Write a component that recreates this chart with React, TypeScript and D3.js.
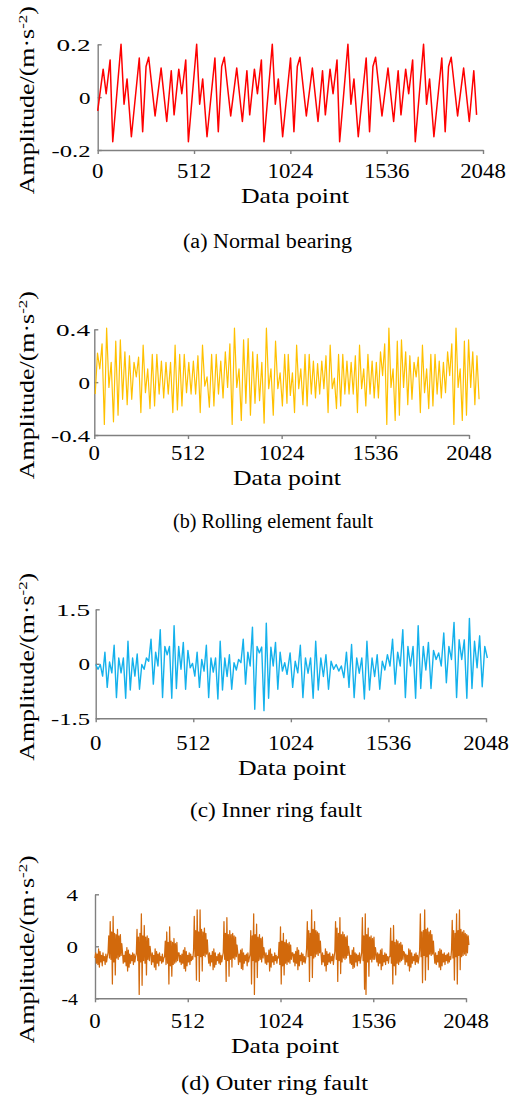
import React, { useEffect, useRef } from 'react';
import * as d3 from 'd3';

type Pt = [number, number];

// --- DATA ---
const X_TICKS = [0, 512, 1024, 1536, 2048];
const CAPTIONS = ['(a) Normal bearing', '(b) Rolling element fault', '(c) Inner ring fault', '(d) Outer ring fault'];
const COLORS = ['#ff0000', '#ffc000', '#14b1ec', '#d2690c'];
const Y_DOMAINS: [number, number][] = [[-0.2, 0.2], [-0.4, 0.4], [-1.5, 1.5], [-4, 4]];
const Y_TICKS = [[-0.2, 0, 0.2], [-0.4, 0, 0.4], [-1.5, 0, 1.5], [-4, 0, 4]];

// (a) vertices [data point, amplitude]
const normalBearing: Pt[] = [
  [0, -0.052], [29, 0.106], [45, 0.013], [66, 0.141], [80, -0.169],
  [124, 0.2], [140, -0.027], [156, 0.069], [179, -0.15], [221, 0.148], [239, -0.131], [257, 0.116], [271, 0.151],
  [305, -0.071], [337, 0.11], [367, -0.092], [391, 0.1], [406, -0.067], [431, 0.106], [447, 0.013], [468, 0.141], [482, -0.169],
  [526, 0.2], [542, -0.027], [558, 0.069], [581, -0.15], [623, 0.148], [641, -0.131], [659, 0.116], [673, 0.151],
  [707, -0.071], [739, 0.11], [769, -0.092], [793, 0.1], [808, -0.067], [833, 0.106], [849, 0.013], [870, 0.141], [884, -0.169],
  [928, 0.2], [944, -0.027], [960, 0.069], [983, -0.15], [1025, 0.148], [1043, -0.131], [1061, 0.116], [1075, 0.151],
  [1109, -0.071], [1141, 0.11], [1171, -0.092], [1195, 0.1], [1210, -0.067], [1235, 0.106], [1251, 0.013], [1272, 0.141], [1286, -0.169],
  [1330, 0.2], [1346, -0.027], [1362, 0.069], [1385, -0.15], [1427, 0.148], [1445, -0.131], [1463, 0.116], [1477, 0.151],
  [1511, -0.071], [1543, 0.11], [1573, -0.092], [1597, 0.1], [1612, -0.067], [1637, 0.106], [1653, 0.013], [1674, 0.141], [1688, -0.169],
  [1732, 0.2], [1748, -0.027], [1764, 0.069], [1787, -0.15], [1829, 0.148], [1847, -0.131], [1865, 0.116], [1879, 0.151],
  [1913, -0.071], [1945, 0.11], [1975, -0.092], [1999, 0.1], [2014, -0.067],
];

// (b) two halves, evenly spread over their spans
const rollingSpan = [5, 1053, 1060, 2103];
const rollingFirst = [
  -0.09, 0.22, 0.10, 0.29, -0.32, 0.41, -0.04, 0.15, -0.30, 0.31,
  -0.25, 0.32, -0.13, 0.23, -0.17, 0.20, -0.13, 0.15, 0.04, 0.19,
  -0.23, 0.28, -0.08, 0.10, -0.20, 0.21, -0.18, 0.21, -0.09, 0.16,
  -0.12, 0.15, -0.09, 0.15, -0.23, 0.28, -0.21, 0.21, -0.18, 0.21,
  -0.08, 0.15, -0.09, 0.16, -0.09, 0.20, -0.23, 0.28, -0.03, 0.04,
  -0.19, 0.21, -0.18, 0.21, -0.09, 0.16, -0.12, 0.23, -0.04, 0.29,
  -0.32, 0.41, -0.04, 0.10, -0.29, 0.32, -0.16, 0.33, -0.25, 0.23,
  -0.16, 0.21, -0.14, 0.15, -0.31, 0.41, -0.05, 0.10, -0.25, 0.31,
  -0.05, 0.07, -0.18, 0.21, -0.16,
];
const rollingSecond = [
  0.21, -0.10, 0.07, -0.23, 0.28, -0.05, 0.10, -0.17, 0.21, -0.18,
  0.21, -0.09, 0.16, -0.12, 0.14, -0.09, 0.16, -0.05, 0.20, -0.23,
  0.28, -0.05, 0.03, -0.20, 0.21, -0.18, 0.21, -0.09, 0.16, -0.09,
  0.15, -0.09, 0.20, -0.23, 0.28, -0.05, 0.10, -0.18, 0.21, -0.09,
  0.16, -0.12, 0.15, -0.12, 0.23, 0.05, 0.29, -0.32, 0.41, -0.04,
  0.10, -0.29, 0.31, -0.25, 0.32, -0.04, 0.23, -0.17, 0.20, -0.13,
  0.15, 0.04, 0.19, -0.23, 0.28, -0.08, 0.10, -0.20, 0.21, -0.18,
  0.21, -0.09, 0.16, -0.12, 0.15, -0.08, 0.23, 0.05, 0.29, -0.32,
  0.41, -0.04, 0.10, -0.29, 0.31, -0.25, 0.32, -0.04, 0.23, -0.17,
  0.20, -0.13,
];

// (c) two halves
const innerSpan = [0, 1004, 1020, 2055];
const innerFirst = [
  -0.02, -0.15, -0.02, -0.34, 0.32, -0.65, 0.05, -0.25, 0.51, -0.93,
  0.16, -0.25, 0.16, -0.95, 0.62, -0.72, 0.16, -0.34, 0.27, -0.70,
  -0.02, -0.15, 0.16, 0.07, 0.68, -0.56, 0.32, -0.06, 0.94, -0.93,
  0.48, 0.25, 0.48, -0.95, 1.05, -0.68, 0.48, -0.15, 0.59, -0.70,
  0.37, -0.11, 0.01, -0.34, 0.32, -0.65, 0.12, -0.20, 0.51, -0.93,
  0.16, -0.23, 0.16, -0.97, 0.62, -0.72, 0.16, -0.35, 0.25, -0.70,
  0.03, -0.17, 0.12, 0.03, 0.68, -0.56, 0.32, -0.06, 1.01, -1.25,
  0.48, 0.30, 0.46, -1.29, 1.12, -0.95, 0.46, -0.06, 0.59, -0.70,
  0.32, -0.20, 0.03, -0.29,
];
const innerSecond = [
  0.30, -0.65, 0.07, -0.25, 0.51, -0.93, 0.16, -0.26, 0.16, -0.95,
  0.62, -0.72, 0.16, -0.35, 0.25, -0.70, 0.07, -0.15, -0.02, -0.20,
  -0.06, -0.38, 0.32, -0.65, 0.53, -0.93, 0.16, -0.26, 0.16, -0.97,
  0.62, -0.72, 0.16, -0.35, 0.25, -0.70, 0.07, -0.17, 0.25, -0.06,
  0.68, -0.56, 0.32, -0.06, 0.94, -0.93, 0.48, -0.06, 0.48, -0.95,
  1.05, -0.68, 0.48, -0.17, 0.59, -0.68, 0.37, 0.12, 0.30, -0.06,
  0.85, -0.52, 0.48, 0.12, 1.14, -0.93, 0.66, 0.12, 0.66, -0.95,
  1.25, -0.68, 0.62, -0.11, 0.77, -0.63, 0.48, 0.16,
];

// (d) one sample every 4 data points; quiet stretches and impact bursts alternate
const OUTER_STEP = 4;
const outerRing = [
  -0.9, -0.5, -1.3, -0.6, -1.4, -0.2, -1.6, -0.4, -1.2, -0.7, -1.5, -0.5, -1.1, -0.8, -1.4, -0.6, -1.2, -0.8,
  -0.5, 0.8, -0.9, 1.9, -1.0, 1.1, -2.9, 2.3, -1.2, 1.0, -2.2, 0.9, -0.9, 1.3, -1.0, 0.8, -0.8, 0.9, -0.7, 0.2,
  -0.5, -1.3, -0.7, -1.2, -0.4, -1.5, -0.1, -1.9, -0.3, -1.6, -0.6, -1.3, -0.7, -1.1, -0.5, -1.4, -0.6, -1.2, -0.8,
  -0.6, 1.3, -1.1, 0.7, -3.7, 1.0, -1.2, 2.5, -3.0, 0.8, -1.1, 1.6, -1.3, 0.7, -2.2, 0.8, -1.0, 0.6, -1.1, 0.0,
  -0.6, -1.4, -0.5, -1.2, -0.7, -1.6, -0.2, -1.8, -0.4, -1.3, -0.6, -1.5, -0.5, -1.1, -0.8, -1.3, -0.6, -1.2, -0.9,
  -0.8, 0.4, -1.4, 1.1, -1.3, 0.3, -2.9, 1.5, -1.5, 0.4, -2.3, 0.3, -1.4, 0.6, -1.3, 0.2, -1.2, 0.3, -1.1, -0.5,
  -0.5, -1.2, -0.7, -1.4, -0.6, -1.3, -0.3, -1.7, -0.1, -1.9, -0.4, -1.5, -0.7, -1.2, -0.5, -1.4, -0.6, -1.1, -0.8, -1.0,
  -0.3, 2.3, -0.8, 1.2, -2.6, 2.8, -0.7, 1.1, -2.7, 2.8, -0.8, 1.3, -1.9, 1.1, -0.7, 1.4, -0.8, 1.0, -0.6, 0.5,
  -0.6, -1.3, -0.5, -1.5, -0.7, -1.2, -0.4, -1.8, -0.2, -1.6, -0.5, -1.4, -0.8, -1.1, -0.6, -1.3, -0.5, -1.4, -0.7, -1.2, -0.8,
  -0.5, 1.9, -1.0, 1.0, -2.7, 2.2, -1.1, 0.9, -2.3, 1.2, -1.0, 0.9, -1.6, 1.0, -0.9, 0.8, -1.0, 0.7, -0.8, 0.1,
  -0.5, -1.4, -0.6, -1.2, -0.3, -1.7, -0.2, -1.8, -0.5, -1.3, -0.7, -1.1, -0.6, -1.5, -0.5, -1.2, -0.9,
  -0.6, 1.2, -2.9, 0.8, -1.1, 2.5, -3.7, 0.9, -1.2, 1.7, -2.4, 0.7, -1.1, 0.9, -1.0, 0.6, -1.2, 0.7, -0.9, -0.1,
  -0.6, -1.3, -0.5, -1.4, -0.7, -1.2, -0.3, -1.9, -0.2, -1.6, -0.6, -1.2, -0.8, -1.4, -0.5, -1.1, -0.7, -1.3, -0.8,
  -0.9, 0.3, -1.4, 1.5, -2.9, 0.4, -1.5, 1.0, -2.2, 0.3, -1.3, 0.5, -1.4, 0.2, -1.2, 0.3, -1.3, 0.1, -1.0, -0.5,
  -0.5, -1.2, -0.6, -1.5, -0.4, -1.3, -0.1, -1.8, -0.3, -1.5, -0.7, -1.1, -0.5, -1.4, -0.6, -1.2, -0.8, -1.3, -0.9,
  -0.2, 1.9, -0.8, 1.2, -2.7, 1.0, -0.7, 2.8, -2.4, 1.3, -0.9, 1.9, -0.8, 1.2, -0.6, 1.1, -0.7, 1.0, -0.5, 0.4,
  -0.6, -1.4, -0.5, -1.2, -0.7, -1.5, -0.2, -1.9, -0.4, -1.4, -0.6, -1.2, -0.5, -1.3, -0.8, -1.1, -0.6, -1.4, -0.8,
  -0.4, 1.9, -1.0, 1.4, -2.7, 1.0, -1.1, 2.2, -2.1, 0.9, -1.2, 1.1, -0.9, 0.9, -1.0, 0.7, -0.9, 0.8, -0.7, 0.0,
  -0.5, -1.3, -0.7, -1.4, -0.3, -1.7, -0.1, -1.6, -0.5, -1.2, -0.6, -1.5, -0.7, -1.1, -0.5, -1.3, -0.9,
  -0.5, 2.2, -1.1, 0.8, -3.3, 2.5, -3.7, 0.9, -1.2, 1.4, -2.3, 0.7, -1.0, 0.8, -1.2, 0.6, -1.0, 0.7, -1.0, -0.1,
  -0.6, -1.2, -0.5, -1.5, -0.6, -1.3, -0.3, -1.8, -0.2, -1.5, -0.7, -1.2, -0.5, -1.4, -0.6, -1.1, -0.8, -1.3, -0.8,
  -0.8, 1.4, -1.3, 0.4, -2.9, 1.6, -1.5, 0.3, -2.2, 0.5, -1.3, 0.4, -1.4, 0.2, -1.2, 0.3, -1.1, 0.1, -1.0, -0.4,
  -0.5, -1.4, -0.6, -1.2, -0.7, -1.5, -0.2, -1.9, -0.3, -1.6, -0.5, -1.3, -0.8, -1.1, -0.6, -1.4, -0.5, -1.2, -0.7, -1.3, -0.9,
  -0.3, 2.5, -0.8, 1.1, -2.8, 1.2, -0.7, 2.8, -2.6, 1.3, -0.8, 1.4, -1.8, 1.1, -0.6, 1.2, -0.7, 0.9, -0.6, 0.4,
  -0.6, -1.3, -0.5, -1.4, -0.7, -1.2, -0.4, -1.6, -0.2, -1.8, -0.3, -1.5, -0.6, -1.2, -0.5, -1.4, -0.7, -1.1, -0.6, -1.3, -0.5, -1.2, -0.8, -1.0,
  -0.3, 2.0, -0.9, 1.2, -2.6, 1.0, -0.8, 2.5, -2.9, 1.2, -0.7, 2.8, -1.8, 1.3, -0.8, 1.1, -0.7, 1.2, -0.6, 1.0, -0.7, 0.9, -0.5, 0.8, 0.1,
];

// --- LAYOUT ---
const FONT = '"Liberation Serif", "Times New Roman", serif';
const AXIS = '#808080';
const LINE_WIDTHS = [1.5, 1.2, 1.4, 1.25];
const LAYOUTS = [
  { left: 97.7, right: 483, top: 44.3, bottom: 150, tickBase: 178.3, yTickRight: 90.5, titleX: 295, titleY: 203.3, capX: 267.5, capY: 248, capLen: 169 },
  { left: 94.3, right: 469, top: 329.3, bottom: 435, tickBase: 460, yTickRight: 90, titleX: 287, titleY: 485, capX: 273, capY: 528, capLen: 200 },
  { left: 95.7, right: 486, top: 609.3, bottom: 718.3, tickBase: 750, yTickRight: 90, titleX: 292, titleY: 775, capX: 276, capY: 817, capLen: 172 },
  { left: 95, right: 466, top: 894.3, bottom: 998.3, tickBase: 1028, yTickRight: 78, titleX: 285, titleY: 1052.7, capX: 274.5, capY: 1090, capLen: 187 },
];

const spread = (vals: number[], from: number, to: number): Pt[] =>
  vals.map((v, i) => [from + (i * (to - from)) / (vals.length - 1), v]);

const SERIES: Pt[][] = [
  normalBearing,
  [...spread(rollingFirst, rollingSpan[0], rollingSpan[1]), ...spread(rollingSecond, rollingSpan[2], rollingSpan[3])],
  [...spread(innerFirst, innerSpan[0], innerSpan[1]), ...spread(innerSecond, innerSpan[2], innerSpan[3])],
  outerRing.map((v, i) => [i * OUTER_STEP, v] as Pt),
];

// widths the reference's wide serif digits take up
const charWidth = (c: string) => (c === '.' ? 11 : c === '-' ? 5 : 11.5);
const labelLen = (s: string) => s.split('').reduce((a, c) => a + charWidth(c), 0);

export default function App() {
  const svgRef = useRef<SVGSVGElement>(null);

  useEffect(() => {
    if (!svgRef.current) return;
    const svg = d3.select(svgRef.current);
    svg.selectAll('*').remove();
    svg.append('rect').attr('width', 513).attr('height', 1100).attr('fill', '#fff');

    LAYOUTS.forEach((L, k) => {
      const x = d3.scaleLinear().domain([0, 2048]).range([L.left, L.right]);
      const y = d3.scaleLinear().domain(Y_DOMAINS[k]).range([L.bottom, L.top]);
      const g = svg.append('g');

      const styleAxis = (s: d3.Selection<SVGGElement, unknown, null, undefined>) => {
        s.select('.domain').attr('stroke', AXIS).attr('stroke-width', 1.4);
        s.selectAll('.tick line').attr('stroke', AXIS).attr('stroke-width', 1.4);
        s.selectAll('.tick text').remove();
      };

      // axes: x ticks point down, y ticks point into the plot
      g.append('g')
        .attr('transform', `translate(0,${L.bottom})`)
        .call(d3.axisBottom(x).tickValues(X_TICKS).tickSize(4).tickSizeOuter(0).tickFormat(() => ''))
        .call(styleAxis);
      g.append('g')
        .attr('transform', `translate(${L.left},0)`)
        .call(d3.axisLeft(y).tickValues(Y_TICKS[k]).tickSize(-4).tickSizeOuter(0).tickFormat(() => ''))
        .call(styleAxis);

      // signal
      const line = d3.line<Pt>().x(d => x(d[0])).y(d => y(d[1]));
      g.append('path')
        .datum(SERIES[k])
        .attr('d', line)
        .attr('fill', 'none')
        .attr('stroke', COLORS[k])
        .attr('stroke-width', LINE_WIDTHS[k])
        .attr('stroke-linejoin', 'round');

      // x tick labels
      X_TICKS.forEach(t => {
        const s = String(t);
        g.append('text')
          .attr('x', x(t))
          .attr('y', L.tickBase)
          .attr('text-anchor', 'middle')
          .attr('font-family', FONT)
          .attr('font-size', 20)
          .attr('textLength', s.length * 11.4)
          .attr('lengthAdjust', 'spacingAndGlyphs')
          .text(s);
      });

      // y tick labels
      Y_TICKS[k].forEach(t => {
        const s = String(t);
        g.append('text')
          .attr('x', L.yTickRight)
          .attr('y', y(t) + 1)
          .attr('text-anchor', 'end')
          .attr('dominant-baseline', 'central')
          .attr('font-family', FONT)
          .attr('font-size', 17)
          .attr('textLength', labelLen(s))
          .attr('lengthAdjust', 'spacingAndGlyphs')
          .text(s);
      });

      // axis titles
      g.append('text')
        .attr('x', L.titleX)
        .attr('y', L.titleY)
        .attr('text-anchor', 'middle')
        .attr('font-family', FONT)
        .attr('font-size', 21)
        .attr('textLength', 108)
        .attr('lengthAdjust', 'spacingAndGlyphs')
        .text('Data point');

      const yl = g.append('text')
        .attr('transform', `translate(34,${(L.top + L.bottom) / 2 + 3}) rotate(-90)`)
        .attr('text-anchor', 'middle')
        .attr('font-family', FONT)
        .attr('font-size', 20)
        .attr('textLength', 188)
        .attr('lengthAdjust', 'spacingAndGlyphs');
      yl.append('tspan').text('Amplitude/(m·s');
      yl.append('tspan').attr('baseline-shift', 'super').attr('font-size', 13).text('-2');
      yl.append('tspan').text(')');

      // caption
      g.append('text')
        .attr('x', L.capX)
        .attr('y', L.capY)
        .attr('text-anchor', 'middle')
        .attr('font-family', FONT)
        .attr('font-size', 20)
        .attr('textLength', L.capLen)
        .attr('lengthAdjust', 'spacingAndGlyphs')
        .text(CAPTIONS[k]);
    });
  }, []);

  return (
    <div style={{ position: 'absolute', left: 0, top: 0, width: 513, height: 1100, background: '#fff' }}>
      <svg ref={svgRef} width={513} height={1100} style={{ display: 'block' }} />
    </div>
  );
}
